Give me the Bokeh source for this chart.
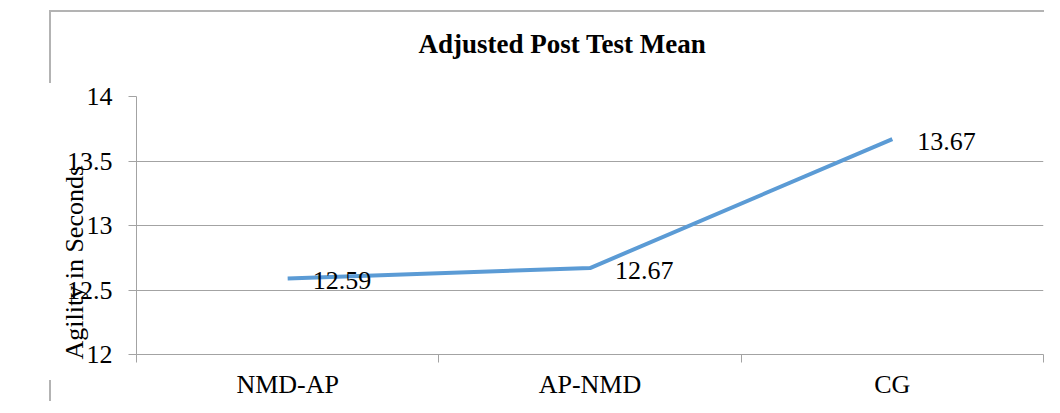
import numpy as np
from bokeh.plotting import figure
from bokeh.models import Range1d, FixedTicker, Title
from bokeh.core.properties import value
from bokeh.embed import file_html
from bokeh.resources import INLINE

categories = ["NMD-AP", "AP-NMD", "CG"]
means = [12.59, 12.67, 13.67]
y_ticks = [12, 12.5, 13, 13.5, 14]
y_tick_labels = ["12", "12.5", "13", "13.5", "14"]
title_text = "Adjusted Post Test Mean"
y_label = "Agility in Seconds"

FONT = "Liberation Serif"
GRAY = "#a3a3a3"
FS = "26px"

xs = np.arange(len(categories)) + 0.5
labels = ["{:.2f}".format(v) for v in means]

p = figure(width=1044, height=401, output_backend="svg", toolbar_location=None,
           x_range=Range1d(0, len(categories)), y_range=Range1d(y_ticks[0], y_ticks[-1]),
           min_border_left=136, min_border_right=1, min_border_top=0, min_border_bottom=46,
           title=title_text,
           styles={
               "background-image": "linear-gradient(#b3b3b3,#b3b3b3), linear-gradient(#b3b3b3,#b3b3b3), linear-gradient(#b3b3b3,#b3b3b3)",
               "background-repeat": "no-repeat",
               "background-size": "1100px 2px, 2px 73px, 2px 40px",
               "background-position": "49px 10px, 49px 10px, 49px 380px",
           })
p.border_fill_alpha = 0
p.outline_line_color = None
p.background_fill_color = None

p.title.align = "left"
p.title.offset = 282
p.title.vertical_align = "middle"
p.title.padding = dict(left=0, right=0, top=0, bottom=10)
p.title.standoff = 54
p.title.text_font = FONT
p.title.text_font_size = "27px"
p.title.text_font_style = "bold"
p.title.text_color = "black"

# y axis title, placed in the left panel beyond the tick labels
yl = Title(text=y_label, align="left", offset=-5, standoff=0, vertical_align="top",
           padding=dict(left=0, right=0, top=27, bottom=0),
           text_font=FONT, text_font_size=FS, text_font_style="normal", text_color="black")
p.add_layout(yl, "left")

# x axis
xa = p.xaxis[0]
xa.ticker = FixedTicker(ticks=list(xs), minor_ticks=list(range(len(categories) + 1)))
xa.major_label_overrides = {float(x): c for x, c in zip(xs, categories)}
xa.major_tick_out = 0
xa.major_tick_in = 0
xa.minor_tick_out = 8
xa.minor_tick_in = 0
xa.minor_tick_line_color = GRAY
xa.axis_line_color = GRAY
xa.major_label_text_font = FONT
xa.major_label_text_font_size = FS
xa.major_label_text_color = "black"
xa.major_label_standoff = 7

# y axis
ya = p.yaxis[0]
ya.ticker = FixedTicker(ticks=y_ticks, minor_ticks=[])
ya.major_label_overrides = {float(t): l for t, l in zip(y_ticks, y_tick_labels)}
ya.major_tick_out = 8
ya.major_tick_in = 0
ya.major_tick_line_color = GRAY
ya.axis_line_color = GRAY
ya.minor_tick_line_color = None
ya.major_label_text_font = FONT
ya.major_label_text_font_size = FS
ya.major_label_text_color = "black"
ya.major_label_standoff = 16

p.xgrid.visible = False
p.ygrid.ticker = FixedTicker(ticks=y_ticks)
p.ygrid.grid_line_color = GRAY

p.line(xs, means, line_color="#5B9BD5", line_width=4)
p.text(xs, means, text=labels, x_offset=25, y_offset=2, text_align="left", text_baseline="middle",
       text_font=value(FONT), text_font_size=FS, text_color="black")

open("out.html", "w").write(file_html(p, INLINE))
